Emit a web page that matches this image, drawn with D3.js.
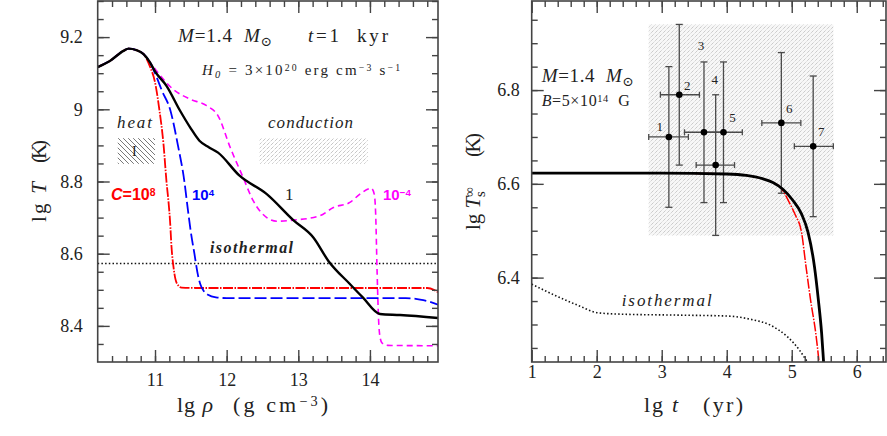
<!DOCTYPE html>
<html>
<head>
<meta charset="utf-8">
<script src="https://cdn.jsdelivr.net/npm/d3@7"></script>
<style>
  body { margin: 0; background: #fff; }
  svg { display: block; }
  text { font-family: "Liberation Serif", "DejaVu Serif", serif; fill: #222; white-space: pre; }
  .axis text { font-size: 18px; fill: #222; }
  .axis line { stroke: #444; stroke-width: 1.4; }
  .axis path { display: none; }
</style>
</head>
<body>
<div id="chart"></div>
<script>
// ---------- left panel: lg T vs lg rho (t = 1 kyr)
const rhoDomain = [10.2, 14.95];
const tempDomain = [8.3, 9.3];
const rhoTicks = [11, 12, 13, 14];
const tempTicks = [8.4, 8.6, 8.8, 9, 9.2];

// shared start of all four profiles
const rhoCommon = [10.2, 10.37, 10.56, 10.63, 10.74, 10.84];
const tempCommon = [9.117, 9.134, 9.162, 9.168, 9.164, 9.153];

// C = 10^8
const rhoC8 = [10.93, 11.0, 11.06, 11.12, 11.16, 11.19, 11.21, 11.23, 11.26, 11.30, 11.37, 11.6, 14.8, 14.9, 14.95];
const tempC8 = [9.118, 9.075, 9.0, 8.9, 8.8, 8.74, 8.69, 8.62, 8.56, 8.52, 8.506, 8.505, 8.505, 8.499, 8.493];
// C = 10^4
const rhoC4 = [10.93, 11.0, 11.1, 11.21, 11.32, 11.41, 11.46, 11.50, 11.55, 11.60, 11.63, 11.68, 11.74, 11.85, 12.0, 14.5, 14.7, 14.85, 14.95];
const tempC4 = [9.13, 9.10, 9.05, 9.0, 8.9, 8.8, 8.72, 8.66, 8.60, 8.54, 8.517, 8.497, 8.486, 8.479, 8.477, 8.477, 8.473, 8.466, 8.459];
// C = 1
const rhoC1 = [10.93, 11.0, 11.16, 11.35, 11.49, 11.62, 11.75, 11.88, 12.18, 12.56, 12.93, 13.21, 13.42, 13.72, 13.90, 14.14, 14.42, 14.95];
const tempC1 = [9.13, 9.105, 9.065, 8.996, 8.95, 8.913, 8.895, 8.88, 8.816, 8.765, 8.693, 8.645, 8.58, 8.516, 8.479, 8.433, 8.43, 8.422];
// C = 10^-4
const rhoCm4 = [10.93, 11.0, 11.25, 11.49, 11.72, 11.88, 12.05, 12.23, 12.37, 12.56, 12.7, 12.93, 13.30, 13.49, 13.72, 13.86, 14.02, 14.06, 14.08, 14.10, 14.12, 14.14, 14.17, 14.25, 14.95];
const tempCm4 = [9.13, 9.112, 9.056, 9.028, 9.01, 8.982, 8.894, 8.811, 8.747, 8.70, 8.69, 8.693, 8.705, 8.728, 8.742, 8.765, 8.781, 8.765, 8.71, 8.55, 8.42, 8.37, 8.352, 8.346, 8.345];
// isothermal crust
const rhoIso = [10.2, 14.95];
const tempIso = [8.573, 8.573];

// heating / conduction boxes (lg rho, lg T)
const heatBox = [10.48, 11.0, 8.849, 8.92];
const condBox = [12.46, 13.97, 8.849, 8.92];

// ---------- right panel: lg Ts vs lg t
const ageDomain = [1, 6.45];
const tsDomain = [6.22, 6.99];
const ageTicks = [1, 2, 3, 4, 5, 6];
const tsTicks = [6.4, 6.6, 6.8];

const ageHeated = [1, 2, 3, 4, 4.3, 4.55, 4.71, 4.86, 5.01, 5.15, 5.25, 5.35, 5.41, 5.46, 5.49, 5.53];
const tsHeated = [6.623, 6.623, 6.623, 6.621, 6.618, 6.611, 6.603, 6.589, 6.566, 6.536, 6.497, 6.423, 6.352, 6.281, 6.22, 6.14];
const ageHeatedC8 = [1, 2, 3, 4, 4.3, 4.55, 4.71, 4.83, 4.96, 5.05, 5.15, 5.22, 5.29, 5.37, 5.42, 5.47];
const tsHeatedC8 = [6.623, 6.623, 6.623, 6.621, 6.618, 6.611, 6.603, 6.592, 6.561, 6.535, 6.497, 6.423, 6.352, 6.281, 6.22, 6.15];
const ageIso = [1, 1.36, 1.71, 2.02, 2.38, 3.25, 4.02, 4.37, 4.68, 4.94, 5.12, 5.24];
const tsIso = [6.386, 6.362, 6.341, 6.325, 6.322, 6.32, 6.318, 6.311, 6.298, 6.273, 6.245, 6.22];

// observed magnetars
const srcIds = ['1', '2', '3', '4', '5', '6', '7'];
const srcAge = [3.11, 3.27, 3.65, 3.83, 3.95, 4.84, 5.33];
const srcAgeLo = [2.80, 2.98, 3.35, 3.53, 3.65, 4.54, 5.04];
const srcAgeHi = [3.41, 3.58, 3.95, 4.12, 4.24, 5.14, 5.64];
const srcTs = [6.70, 6.79, 6.71, 6.64, 6.71, 6.73, 6.68];
const srcTsLo = [6.55, 6.64, 6.56, 6.49, 6.56, 6.58, 6.53];
const srcTsHi = [6.85, 6.94, 6.86, 6.79, 6.86, 6.88, 6.83];
const obsBox = [2.80, 5.64, 6.49, 6.94];

// label offsets for source numbers (px)
const idOffsets = [[-9, -6], [8, -5], [-3, -12], [-1, -11], [9, -10], [8, -10], [8, -10]];

const zip = (xs, ys) => xs.map((x, i) => [x, ys[i]]);

const svg = d3.select('#chart').append('svg')
    .attr('width', 887)
    .attr('height', 436);

// patterns
const defs = svg.append('defs');
defs.append('pattern')
    .attr('id', 'hatch')
    .attr('patternUnits', 'userSpaceOnUse')
    .attr('width', 5).attr('height', 5)
    .append('path')
    .attr('d', 'M0,0 L5,5 M-1,4 L1,6 M4,-1 L6,1')
    .attr('stroke', '#555').attr('stroke-width', 0.8);
const dotPat = defs.append('pattern')
    .attr('id', 'stipple')
    .attr('patternUnits', 'userSpaceOnUse')
    .attr('width', 4).attr('height', 4);
dotPat.append('path')
    .attr('d', 'M0,4 L4,0 M-1,1 L1,-1 M3,5 L5,3')
    .attr('stroke', '#999').attr('stroke-width', 0.8)
    .attr('stroke-dasharray', '1,1.2');
const obsPat = defs.append('pattern')
    .attr('id', 'obsfill')
    .attr('patternUnits', 'userSpaceOnUse')
    .attr('width', 4).attr('height', 4);
obsPat.append('rect').attr('width', 4).attr('height', 4).attr('fill', '#f7f7f7');
obsPat.append('path')
    .attr('d', 'M0,4 L4,0 M-1,1 L1,-1 M3,5 L5,3')
    .attr('stroke', '#b5b5b5').attr('stroke-width', 0.8)
    .attr('stroke-dasharray', '1.2,0.8');

// text with italic / sup / sub pieces
function richText(g, x, y, parts, opts) {
    const t = g.append('text')
        .attr('x', x).attr('y', y)
        .style('font-size', opts.size + 'px');
    if (opts.family) t.style('font-family', opts.family);
    if (opts.weight) t.style('font-weight', opts.weight);
    if (opts.fill) t.style('fill', opts.fill);
    if (opts.italic) t.style('font-style', 'italic');
    if (opts.length) t.attr('textLength', opts.length).attr('lengthAdjust', 'spacing');
    if (opts.rotate) t.attr('transform', `rotate(-90,${x},${y})`);
    parts.forEach(p => {
        const s = t.append('tspan').text(p[0]);
        const f = p[1] || '';
        if (f.includes('i')) s.style('font-style', 'italic');
        if (f.includes('^')) s.attr('baseline-shift', '45%').style('font-size', '65%');
        if (f.includes('_')) s.attr('baseline-shift', '-30%').style('font-size', '70%');
        if (p[2]) s.attr('dx', p[2]);
    });
    return t;
}

function drawAxes(g, x, y, cfg) {
    const [x0, x1] = x.range();
    const [y0, y1] = y.range();

    // minor ticks on all four sides
    g.append('g').attr('class', 'axis').attr('transform', `translate(0,${y0})`)
        .call(d3.axisBottom(x).tickValues(cfg.xMinor).tickSize(-6).tickFormat(''));
    g.append('g').attr('class', 'axis').attr('transform', `translate(0,${y1})`)
        .call(d3.axisTop(x).tickValues(cfg.xMinor).tickSize(-6).tickFormat(''));
    g.append('g').attr('class', 'axis').attr('transform', `translate(${x0},0)`)
        .call(d3.axisLeft(y).tickValues(cfg.yMinor).tickSize(-6).tickFormat(''));
    g.append('g').attr('class', 'axis').attr('transform', `translate(${x1},0)`)
        .call(d3.axisRight(y).tickValues(cfg.yMinor).tickSize(-6).tickFormat(''));

    // major ticks
    g.append('g').attr('class', 'axis').attr('transform', `translate(0,${y0})`)
        .call(d3.axisBottom(x).tickValues(cfg.xTicks).tickSize(-12).tickPadding(cfg.xPad).tickFormat(d3.format('')));
    g.append('g').attr('class', 'axis').attr('transform', `translate(0,${y1})`)
        .call(d3.axisTop(x).tickValues(cfg.xTicks).tickSize(-12).tickFormat(''));
    g.append('g').attr('class', 'axis').attr('transform', `translate(${x0},0)`)
        .call(d3.axisLeft(y).tickValues(cfg.yTicks).tickSize(-12).tickPadding(cfg.yPad).tickFormat(d3.format('')));
    g.append('g').attr('class', 'axis').attr('transform', `translate(${x1},0)`)
        .call(d3.axisRight(y).tickValues(cfg.yTicks).tickSize(-12).tickFormat(''));

    g.append('rect')
        .attr('x', x0).attr('y', y1)
        .attr('width', x1 - x0).attr('height', y0 - y1)
        .attr('fill', 'none')
        .attr('stroke', '#444')
        .attr('stroke-width', 1.6);
}

function clipFor(id, x, y) {
    defs.append('clipPath').attr('id', id).append('rect')
        .attr('x', x.range()[0]).attr('y', y.range()[1])
        .attr('width', x.range()[1] - x.range()[0])
        .attr('height', y.range()[0] - y.range()[1]);
}

// ================= LEFT PANEL =================
const xL = d3.scaleLinear().domain(rhoDomain).range([97.7, 438]);
const yL = d3.scaleLinear().domain(tempDomain).range([362, 1]);
const left = svg.append('g');
clipFor('clipL', xL, yL);

const lineL = d3.line()
    .x(d => xL(d[0])).y(d => yL(d[1]))
    .curve(d3.curveMonotoneX);

// boxes
left.append('rect')
    .attr('x', xL(heatBox[0])).attr('y', yL(heatBox[3]))
    .attr('width', xL(heatBox[1]) - xL(heatBox[0]))
    .attr('height', yL(heatBox[2]) - yL(heatBox[3]))
    .attr('fill', 'url(#hatch)');
left.append('rect')
    .attr('x', xL(condBox[0])).attr('y', yL(condBox[3]))
    .attr('width', xL(condBox[1]) - xL(condBox[0]))
    .attr('height', yL(condBox[2]) - yL(condBox[3]))
    .attr('fill', 'url(#stipple)');

const curvesL = left.append('g').attr('clip-path', 'url(#clipL)');
curvesL.append('path')
    .attr('d', lineL(zip(rhoIso, tempIso)))
    .attr('fill', 'none').attr('stroke', '#111')
    .attr('stroke-width', 1.6).attr('stroke-dasharray', '1.5,2.2');

const seriesL = [
    { rho: rhoCm4, temp: tempCm4, color: '#ff00ff', width: 1.6, dash: '6,4' },
    { rho: rhoC8, temp: tempC8, color: '#ff0000', width: 1.8, dash: '10,1.5,1.5,1.5' },
    { rho: rhoC4, temp: tempC4, color: '#0000ff', width: 1.8, dash: '12,4' },
    { rho: rhoC1, temp: tempC1, color: '#000000', width: 2.4, dash: null }
];
seriesL.forEach(s => {
    curvesL.append('path')
        .attr('d', lineL(zip(rhoCommon.concat(s.rho), tempCommon.concat(s.temp))))
        .attr('fill', 'none')
        .attr('stroke', s.color)
        .attr('stroke-width', s.width)
        .attr('stroke-dasharray', s.dash);
});

drawAxes(left, xL, yL, {
    xTicks: rhoTicks,
    xMinor: d3.range(10.4, 14.95, 0.2).map(v => +v.toFixed(1)),
    yTicks: tempTicks,
    yMinor: d3.range(8.35, 9.3, 0.05).map(v => +v.toFixed(2)),
    xPad: 11, yPad: 15
});

// annotations
richText(left, 178, 42, [['M', 'i'], ['=1.4  '], ['M', 'i'], ['\u2299', '_']], { size: 19, length: 94 });
richText(left, 308, 42, [['t', 'i'], ['=1  kyr']], { size: 19, length: 80 });
richText(left, 202, 75, [['H', 'i'], ['0', '_i'], [' = 3\u00d710'], ['20', '^'], [' erg cm'], ['\u22123', '^'], [' s'], ['\u22121', '^']],
    { size: 15, length: 198 });
richText(left, 117, 128, [['heat']], { size: 17, italic: true, length: 35 });
richText(left, 268, 128, [['conduction']], { size: 17, italic: true, length: 85 });
richText(left, 132, 156, [['I']], { size: 14 });
richText(left, 111, 200, [['C', 'i'], ['=10'], ['8', '^']],
    { size: 16, family: 'Liberation Sans', weight: 'bold', fill: '#ff0000' });
richText(left, 192, 200, [['10'], ['4', '^']],
    { size: 15, family: 'Liberation Sans', weight: 'bold', fill: '#0000ff' });
richText(left, 285, 200, [['1']], { size: 17 });
richText(left, 383, 200, [['10'], ['\u22124', '^']],
    { size: 15, family: 'Liberation Sans', weight: 'bold', fill: '#ff00ff' });
richText(left, 210, 253, [['isothermal']], { size: 16, italic: true, weight: 'bold', length: 83 });

// axis titles
richText(left, 177, 412, [['lg '], ['\u03c1', 'i']], { size: 22, length: 36 });
richText(left, 233, 412, [['(g cm'], ['\u22123', '^'], [')']], { size: 22, length: 95 });
richText(left, 46, 222, [['lg '], ['T', 'i']], { size: 21, length: 40, rotate: true });
richText(left, 46, 163, [['(K)']], { size: 21, length: 23, rotate: true });

// ================= RIGHT PANEL =================
const xR = d3.scaleLinear().domain(ageDomain).range([531.7, 886]);
const yR = d3.scaleLinear().domain(tsDomain).range([362, 1]);
const right = svg.append('g');
clipFor('clipR', xR, yR);

const lineR = d3.line()
    .x(d => xR(d[0])).y(d => yR(d[1]))
    .curve(d3.curveMonotoneX);

right.append('rect')
    .attr('x', xR(obsBox[0])).attr('y', yR(obsBox[3]))
    .attr('width', xR(obsBox[1]) - xR(obsBox[0]))
    .attr('height', yR(obsBox[2]) - yR(obsBox[3]))
    .attr('fill', 'url(#obsfill)');

// error bars
const bars = right.append('g')
    .attr('stroke', '#4a4a4a')
    .attr('stroke-width', 1.3);
srcIds.forEach((id, i) => {
    const cx = xR(srcAge[i]), cy = yR(srcTs[i]);
    const xa = xR(srcAgeLo[i]), xb = xR(srcAgeHi[i]);
    const ya = yR(srcTsLo[i]), yb = yR(srcTsHi[i]);
    bars.append('line').attr('x1', cx).attr('x2', cx).attr('y1', ya).attr('y2', yb);
    bars.append('line').attr('x1', cx - 3.5).attr('x2', cx + 3.5).attr('y1', ya).attr('y2', ya);
    bars.append('line').attr('x1', cx - 3.5).attr('x2', cx + 3.5).attr('y1', yb).attr('y2', yb);
    bars.append('line').attr('x1', xa).attr('x2', xb).attr('y1', cy).attr('y2', cy);
    bars.append('line').attr('x1', xa).attr('x2', xa).attr('y1', cy - 3).attr('y2', cy + 3);
    bars.append('line').attr('x1', xb).attr('x2', xb).attr('y1', cy - 3).attr('y2', cy + 3);
});

const curvesR = right.append('g').attr('clip-path', 'url(#clipR)');
curvesR.append('path')
    .attr('d', lineR(zip(ageIso, tsIso)))
    .attr('fill', 'none').attr('stroke', '#111')
    .attr('stroke-width', 1.6).attr('stroke-dasharray', '1.5,2.2');
curvesR.append('path')
    .attr('d', lineR(zip(ageHeatedC8, tsHeatedC8)))
    .attr('fill', 'none').attr('stroke', '#ff0000')
    .attr('stroke-width', 1.5).attr('stroke-dasharray', '10,1.5,1.5,1.5');
curvesR.append('path')
    .attr('d', lineR(zip(ageHeated, tsHeated)))
    .attr('fill', 'none').attr('stroke', '#000')
    .attr('stroke-width', 2.8);

// points + numbers
right.selectAll('circle.src')
    .data(srcIds)
    .join('circle')
    .attr('class', 'src')
    .attr('cx', (d, i) => xR(srcAge[i]))
    .attr('cy', (d, i) => yR(srcTs[i]))
    .attr('r', 3.3)
    .attr('fill', '#000');
right.selectAll('text.srcid')
    .data(srcIds)
    .join('text')
    .attr('class', 'srcid')
    .attr('x', (d, i) => xR(srcAge[i]) + idOffsets[i][0])
    .attr('y', (d, i) => (i === 2 || i === 3 ? yR(srcTsHi[i]) : yR(srcTs[i])) + idOffsets[i][1])
    .attr('text-anchor', 'middle')
    .style('font-size', '13px')
    .style('fill', '#222')
    .text(d => d);

drawAxes(right, xR, yR, {
    xTicks: ageTicks,
    xMinor: d3.range(1.2, 6.45, 0.2).map(v => +v.toFixed(1)),
    yTicks: tsTicks,
    yMinor: d3.range(6.25, 6.99, 0.05).map(v => +v.toFixed(2)),
    xPad: 3, yPad: 12
});

richText(right, 541.7, 82, [['M', 'i'], ['=1.4  '], ['M', 'i'], ['\u2299', '_']], { size: 19, length: 92 });
richText(right, 541.7, 106, [['B', 'i'], ['=5\u00d710'], ['14', '^'], ['  G']], { size: 16, length: 88 });
richText(right, 621.7, 306, [['isothermal']], { size: 17, italic: true, length: 90 });

richText(right, 644, 412, [['lg '], ['t', 'i']], { size: 22, length: 34 });
richText(right, 703, 412, [['(yr)']], { size: 22, length: 40 });
richText(right, 480, 230, [['lg '], ['T', 'i'], ['\u221e', '^'], ['s', '_', -10]], { size: 21, rotate: true });
richText(right, 480, 157, [['(K)']], { size: 21, length: 24, rotate: true });
</script>
</body>
</html>
